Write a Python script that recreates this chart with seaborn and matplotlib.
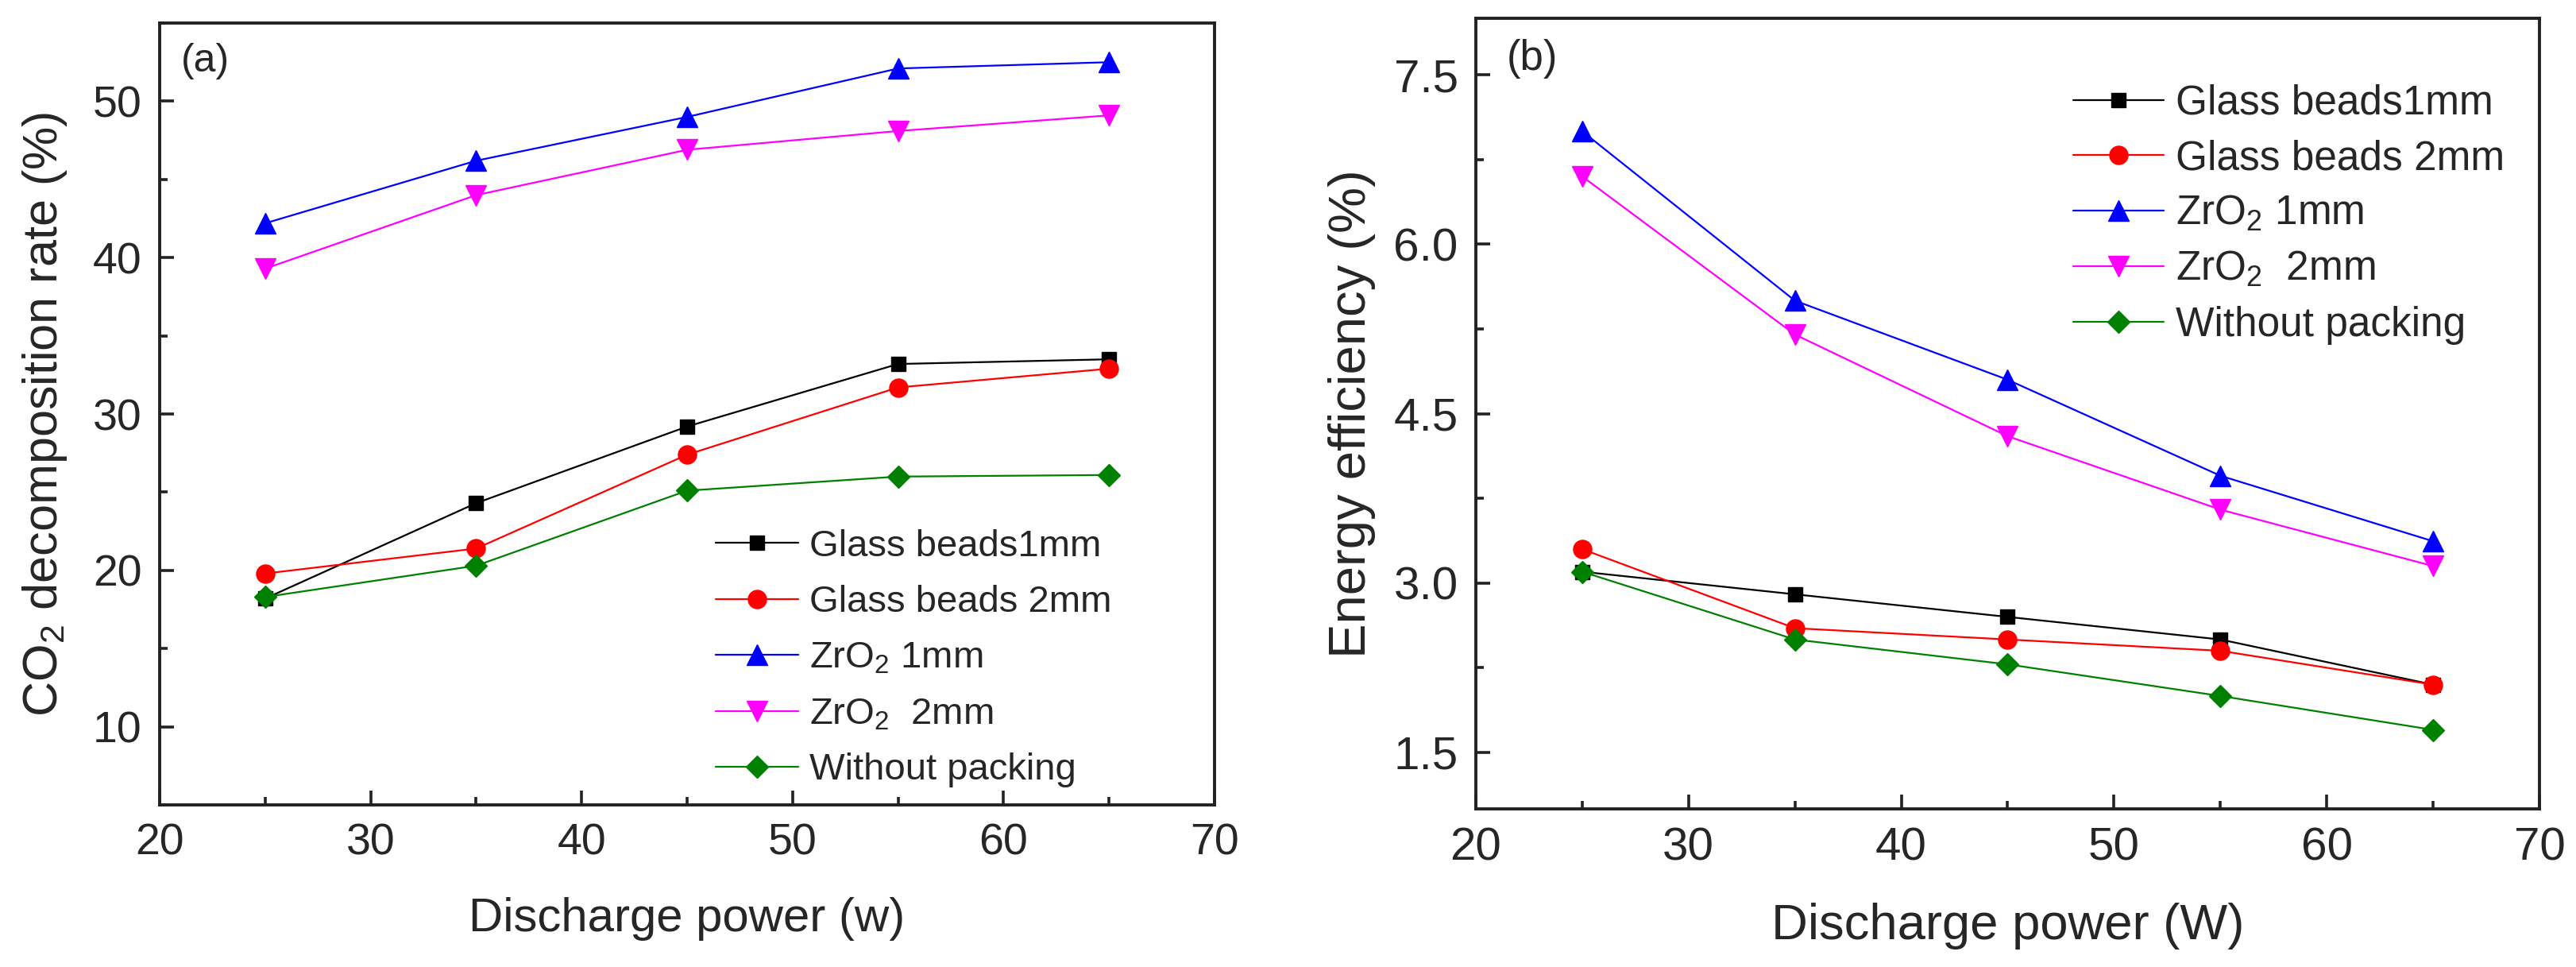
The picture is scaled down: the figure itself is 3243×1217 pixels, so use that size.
import matplotlib.pyplot as plt
import matplotlib.ticker as mticker
import pandas as pd
import seaborn as sns

# Data
power = [25, 35, 45, 55, 65]
labels = ['Glass beads1mm', 'Glass beads 2mm', 'ZrO$_2$ 1mm', 'ZrO$_2$  2mm', 'Without packing']

# (a) CO2 decomposition rate (%)
glass1_rate = [18.2, 24.3, 29.2, 33.2, 33.5]
glass2_rate = [19.8, 21.4, 27.4, 31.7, 32.9]
zro1_rate = [42.2, 46.2, 49.0, 52.1, 52.5]
zro2_rate = [39.3, 44.0, 46.9, 48.1, 49.1]
nopack_rate = [18.3, 20.3, 25.1, 26.0, 26.1]

# (b) Energy efficiency (%)
glass1_eff = [3.1, 2.9, 2.7, 2.5, 2.1]
glass2_eff = [3.3, 2.6, 2.5, 2.4, 2.1]
zro1_eff = [7.0, 5.5, 4.8, 3.95, 3.37]
zro2_eff = [6.6, 5.2, 4.3, 3.65, 3.15]
nopack_eff = [3.1, 2.5, 2.28, 2.0, 1.7]

colors = ['#000000', '#ff0000', '#0000ff', '#ff00ff', '#008000']
markers = ['s', 'o', '^', 'v', 'D']
msizes = [6.5, 8.3, 9.5, 9.5, 7]

sns.set_theme(style='ticks')
plt.rcParams['font.family'] = ['Liberation Sans', 'DejaVu Sans']
plt.rcParams['mathtext.fontset'] = 'custom'
plt.rcParams['mathtext.rm'] = 'Liberation Sans'
plt.rcParams['mathtext.it'] = 'Liberation Sans:italic'
plt.rcParams['mathtext.default'] = 'regular'

fig = plt.figure(figsize=(16.215, 6.085), dpi=200)
ax1 = fig.add_axes([0.0620, 0.1676, 0.4095, 0.8085])
ax2 = fig.add_axes([0.5729, 0.1635, 0.4129, 0.8176])


def draw_panel(ax, series, tick_size):
    for vals, lab, c, m, ms in zip(series, labels, colors, markers, msizes):
        df = pd.DataFrame({'power': power, 'value': vals})
        sns.lineplot(data=df, x='power', y='value', ax=ax, color=c, marker=m,
                     markersize=ms, markeredgecolor=c, markeredgewidth=0.5,
                     linewidth=0.8, label=lab)
    ax.set_xlim(20, 70)
    ax.xaxis.set_major_locator(mticker.MultipleLocator(10))
    ax.xaxis.set_minor_locator(mticker.MultipleLocator(5))
    ax.tick_params(which='both', direction='in', top=False, right=False,
                   width=1.3, color='#222222', labelsize=tick_size, pad=8)
    ax.tick_params(which='major', length=6.5)
    ax.tick_params(which='minor', length=3.5)
    for sp in ax.spines.values():
        sp.set_linewidth(1.4)
        sp.set_color('#222222')


draw_panel(ax1, [glass1_rate, glass2_rate, zro1_rate, zro2_rate, nopack_rate], 20)
ax1.set_xlabel('Discharge power (w)', fontsize=21.6, labelpad=15)
ax1.set_ylim(5, 55)
ax1.yaxis.set_major_locator(mticker.MultipleLocator(10))
ax1.yaxis.set_minor_locator(mticker.MultipleLocator(5))
ax1.set_ylabel('CO$_2$ decomposition rate (%)', fontsize=22, labelpad=11)
ax1.text(0.02, 0.951, '(a)', transform=ax1.transAxes, fontsize=18, va='center', ha='left')
ax1.legend(loc='upper left', bbox_to_anchor=(0.527, 0.353), frameon=False, fontsize=17,
           handlelength=2.2, handletextpad=0.3, labelspacing=0.56, borderpad=0, borderaxespad=0)

draw_panel(ax2, [glass1_eff, glass2_eff, zro1_eff, zro2_eff, nopack_eff], 21)
ax2.set_xlabel('Discharge power (W)', fontsize=22.8, labelpad=15)
ax2.set_ylim(1.0, 8.0)
ax2.yaxis.set_major_locator(mticker.MultipleLocator(1.5))
ax2.yaxis.set_minor_locator(mticker.MultipleLocator(0.75))
ax2.yaxis.set_major_formatter(mticker.FormatStrFormatter('%.1f'))
ax2.set_ylabel('Energy efficiency (%)', fontsize=23.5, labelpad=8)
ax2.text(0.029, 0.949, '(b)', transform=ax2.transAxes, fontsize=19, va='center', ha='left')
ax2.legend(loc='upper left', bbox_to_anchor=(0.562, 0.917), frameon=False, fontsize=18.5,
           handlelength=2.2, handletextpad=0.3, labelspacing=0.4, borderpad=0, borderaxespad=0)

fig.savefig('out.png', dpi=200)
